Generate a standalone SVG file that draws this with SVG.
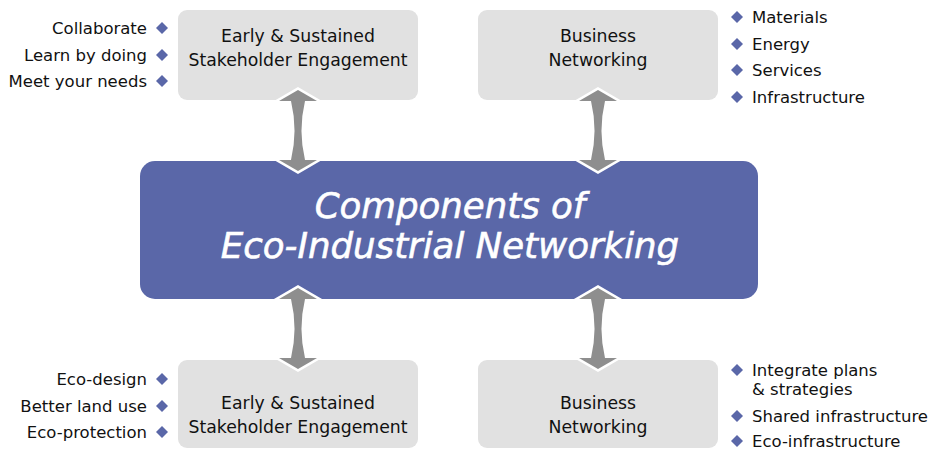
<svg xmlns="http://www.w3.org/2000/svg" width="934" height="450" viewBox="0 0 934 450">
<defs>
<style>
.box{fill:#e1e1e1;}
.core{fill:#5a67a8;}
.bt{font-family:"DejaVu Sans","Liberation Sans",sans-serif;font-size:17.3px;fill:#111;text-anchor:middle;}
.li{font-family:"DejaVu Sans","Liberation Sans",sans-serif;font-size:16.5px;fill:#111;}
.le{text-anchor:end;}
.title{font-family:"DejaVu Sans","Liberation Sans",sans-serif;font-size:35.6px;font-style:italic;fill:#fff;stroke:#fff;stroke-width:0.6;text-anchor:middle;}
.dia{fill:#5a67a8;}
.arr{fill:#8e8e8e;stroke:#fff;stroke-width:5;stroke-linejoin:miter;paint-order:stroke;}
</style>
<polygon id="d" points="0,-6 6,0 0,6 -6,0"/>
<path id="a" d="M0,0 L19,11 L7,11 Q0,40.5 7,70 L19,70 L0,81 L-19,70 L-7,70 Q0,40.5 -7,11 L-19,11 Z"/>
</defs>
<rect width="934" height="450" fill="#fff"/>

<g id="node-stakeholder-top">
<rect class="box" x="178" y="10" width="240" height="90" rx="9"/>
<text class="bt" x="298" y="42">Early &amp; Sustained</text>
<text class="bt" x="298" y="66">Stakeholder Engagement</text>
<text class="li le" x="147" y="34">Collaborate</text>
<text class="li le" x="147" y="61">Learn by doing</text>
<text class="li le" x="147" y="87">Meet your needs</text>
<use href="#d" class="dia" x="162" y="28"/>
<use href="#d" class="dia" x="162" y="55"/>
<use href="#d" class="dia" x="162" y="81"/>
</g>

<g id="node-business-top">
<rect class="box" x="478" y="10" width="240" height="90" rx="9"/>
<text class="bt" x="598" y="42">Business</text>
<text class="bt" x="598" y="66">Networking</text>
<use href="#d" class="dia" x="737" y="17"/>
<use href="#d" class="dia" x="737" y="44"/>
<use href="#d" class="dia" x="737" y="70"/>
<use href="#d" class="dia" x="737" y="97"/>
<text class="li" x="752" y="23">Materials</text>
<text class="li" x="752" y="50">Energy</text>
<text class="li" x="752" y="76">Services</text>
<text class="li" x="752" y="103">Infrastructure</text>
</g>

<g id="node-stakeholder-bottom">
<rect class="box" x="178" y="360" width="240" height="88" rx="9"/>
<text class="bt" x="298" y="409">Early &amp; Sustained</text>
<text class="bt" x="298" y="433">Stakeholder Engagement</text>
<text class="li le" x="147" y="385">Eco-design</text>
<text class="li le" x="147" y="412">Better land use</text>
<text class="li le" x="147" y="438">Eco-protection</text>
<use href="#d" class="dia" x="162" y="379"/>
<use href="#d" class="dia" x="162" y="406"/>
<use href="#d" class="dia" x="162" y="432"/>
</g>

<g id="node-business-bottom">
<rect class="box" x="478" y="360" width="240" height="88" rx="9"/>
<text class="bt" x="598" y="409">Business</text>
<text class="bt" x="598" y="433">Networking</text>
<use href="#d" class="dia" x="737" y="370"/>
<use href="#d" class="dia" x="737" y="416"/>
<use href="#d" class="dia" x="737" y="441"/>
<text class="li" x="752" y="376">Integrate plans</text>
<text class="li" x="752" y="395">&amp; strategies</text>
<text class="li" x="752" y="422">Shared infrastructure</text>
<text class="li" x="752" y="447">Eco-infrastructure</text>
</g>

<g id="node-core">
<rect class="core" x="140" y="161" width="618" height="138" rx="15"/>
<text class="title" x="450" y="218">Components of</text>
<text class="title" x="450" y="258">Eco-Industrial Networking</text>
</g>

<g id="connectors">
<use href="#a" class="arr" x="298" y="90"/>
<use href="#a" class="arr" x="598" y="90"/>
<use href="#a" class="arr" x="298" y="288"/>
<use href="#a" class="arr" x="598" y="288"/>
</g>
</svg>
